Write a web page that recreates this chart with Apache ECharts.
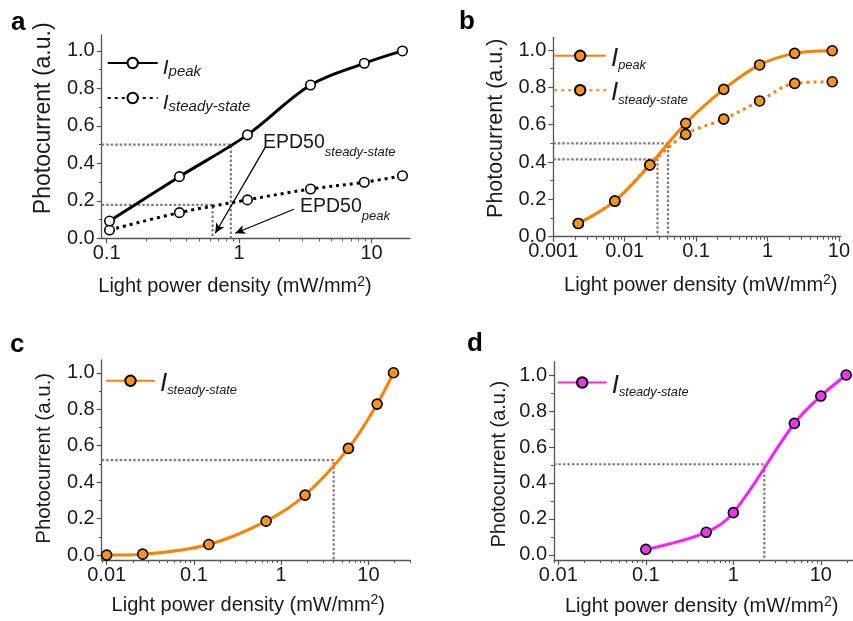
<!DOCTYPE html>
<html>
<head>
<meta charset="utf-8">
<script src="https://cdn.jsdelivr.net/npm/echarts@6/dist/echarts.min.js"></script>
<style>
html, body { margin: 0; padding: 0; background: #fff; }
#chart { width: 853px; height: 621px; }
</style>
</head>
<body>
<div id="chart"></div>
<script>
// panel a
const aX = [0.105, 0.354, 1.155, 3.46, 8.81, 17.1]
const aPeak = [0.092, 0.329, 0.552, 0.818, 0.934, 1.0]
const aSteady = [0.044, 0.137, 0.205, 0.263, 0.299, 0.334]
// panel b
const bX = [0.00224, 0.00728, 0.0225, 0.0716, 0.244, 0.776, 2.40, 8.07]
const bPeak = [0.071, 0.191, 0.384, 0.607, 0.789, 0.92, 0.982, 0.996]
const bSteady = [0.071, 0.191, 0.384, 0.548, 0.63, 0.727, 0.821, 0.83]
// panel c
const cX = [0.01, 0.0259, 0.148, 0.673, 1.88, 5.9, 12.6, 19.4]
const cSteady = [0.0, 0.005, 0.058, 0.186, 0.329, 0.585, 0.828, 1.0]
// panel d
const dX = [0.1, 0.49, 1.0, 4.98, 10, 19.5]
const dSteady = [0.031, 0.126, 0.235, 0.731, 0.883, 1.0]

// EPD50 guides: [x, y]
const aGuide = [[0.866, 0.5], [0.63, 0.178]]
const bGuide = [[0.0405, 0.5], [0.0288, 0.414]]
const cGuide = [[4.0, 0.521]]
const dGuide = [[2.26, 0.504]]

// ticks
const yTicks = [0, 0.2, 0.4, 0.6, 0.8, 1.0]
const yMinor = [0.1, 0.3, 0.5, 0.7, 0.9]
const aXTicks = [0.1, 1, 10]
const bXTicks = [0.001, 0.01, 0.1, 1, 10]
const cdXTicks = [0.01, 0.1, 1, 10]

const FONT = 'Liberation Sans, Arial, sans-serif'
const AXIS = '#555'
const TXT = '#1a1a1a'
const ORANGE = '#ff8000'
const ORANGE_DOT = '#f7931e'
const MAGENTA = '#ff1aff'
const MAGENTA_DOT = '#e838e8'
const X_TITLE = 'Light power density (mW/mm{sup|2})'
const Y_TITLE = 'Photocurrent (a.u.)'

const zip = (xs, ys) => xs.map((x, i) => [x, ys[i]])

const minorTicks = (min, max) => {
  const out = []
  for (let e = Math.floor(Math.log10(min)); e <= Math.ceil(Math.log10(max)); e++) {
    for (let k = 2; k <= 9; k++) {
      const v = k * Math.pow(10, e)
      if (v >= min && v <= max) out.push(v)
    }
  }
  return out
}

const panels = [
  {
    grid: { left: 101.7, right: 443, top: 35, bottom: 382.7 },
    xMin: 0.0917, xMax: 19.5, yMin: 0, yMax: 1.085, xTicks: aXTicks,
    xTitle: [235, 286.7], yTitle: [43.3, 118.3], yTitleSize: 23,
    guides: aGuide
  },
  {
    grid: { left: 553.3, right: 11.3, top: 37.3, bottom: 384.3 },
    xMin: 0.001, xMax: 10.5, yMin: 0, yMax: 1.068, xTicks: bXTicks,
    xTitle: [700.8, 285], yTitle: [495.7, 128.3], yTitleSize: 21.5,
    guides: bGuide
  },
  {
    grid: { left: 101.7, right: 443, top: 360, bottom: 61 },
    xMin: 0.00877, xMax: 30, yMin: -0.027, yMax: 1.07, xTicks: cdXTicks,
    xTitle: [248.3, 605], yTitle: [44.2, 458.3], yTitleSize: 20.5,
    guides: cGuide
  },
  {
    grid: { left: 554, right: 0, top: 361.7, bottom: 61 },
    xMin: 0.00893, xMax: 23.3, yMin: -0.028, yMax: 1.074, xTicks: cdXTicks,
    xTitle: [701.7, 606.7], yTitle: [499.2, 464.2], yTitleSize: 20,
    guides: dGuide
  }
]

const fmtX = v => String(+(+v).toPrecision(6))

const grids = []
const xAxes = []
const yAxes = []
panels.forEach((p, i) => {
  grids.push(Object.assign({ containLabel: false }, p.grid))
  xAxes.push({
    type: 'log', gridIndex: i, position: 'bottom', min: p.xMin, max: p.xMax,
    axisLine: { show: true, onZero: false, lineStyle: { color: AXIS, width: 1.3 } },
    axisTick: { show: true, length: 5, customValues: p.xTicks, lineStyle: { color: AXIS, width: 1.2 } },
    axisLabel: { customValues: p.xTicks, formatter: fmtX, fontSize: 20, color: TXT, margin: 5, fontFamily: FONT },
    splitLine: { show: false }
  })
  xAxes.push({
    type: 'log', gridIndex: i, position: 'bottom', min: p.xMin, max: p.xMax,
    axisLine: { show: false, onZero: false },
    axisTick: { show: true, length: 3, customValues: minorTicks(p.xMin, p.xMax), lineStyle: { color: AXIS, width: 1 } },
    axisLabel: { show: false },
    splitLine: { show: false }
  })
  yAxes.push({
    type: 'value', gridIndex: i, position: 'left', min: p.yMin, max: p.yMax,
    axisLine: { show: true, onZero: false, lineStyle: { color: AXIS, width: 1.3 } },
    axisTick: { show: true, length: 5, customValues: yTicks, lineStyle: { color: AXIS, width: 1.2 } },
    axisLabel: { customValues: yTicks, formatter: v => (+v).toFixed(1), fontSize: 20, color: TXT, margin: 7, fontFamily: FONT },
    splitLine: { show: false }
  })
  yAxes.push({
    type: 'value', gridIndex: i, position: 'left', min: p.yMin, max: p.yMax,
    axisLine: { show: false, onZero: false },
    axisTick: { show: true, length: 3, customValues: yMinor, lineStyle: { color: AXIS, width: 1 } },
    axisLabel: { show: false },
    splitLine: { show: false }
  })
})

const series = []

// guides first (behind)
panels.forEach((p, i) => {
  p.guides.forEach(g => {
    series.push({
      type: 'line', xAxisIndex: 2 * i, yAxisIndex: 2 * i, silent: true, symbol: 'none', z: 1,
      data: [[p.xMin, g[1]], [g[0], g[1]], [g[0], p.yMin]],
      lineStyle: { color: '#7d7d7d', width: 2.2, type: [2.5, 2] }
    })
  })
})

const mkLine = (name, i, xs, ys, color, fill, dotted, size, width) => ({
  type: 'line', name, xAxisIndex: 2 * i, yAxisIndex: 2 * i,
  data: zip(xs, ys), smooth: 0.35, symbol: 'circle', symbolSize: size, z: 3,
  lineStyle: { color, width, type: dotted ? [width, width + 1] : 'solid' },
  itemStyle: { color: fill, borderColor: '#000', borderWidth: 1.6 }
})

const aSteadySeries = mkLine('aSteady', 0, aX, aSteady, '#000', '#fff', true, 9.5, 3)
// arrows in panel a
aSteadySeries.markLine = {
  silent: true, symbol: ['none', 'arrow'], symbolSize: [7, 10],
  label: { show: false },
  lineStyle: { color: '#000', width: 1.3, type: 'solid' },
  data: [
    [{ coord: [1.585, 0.489] }, { coord: [0.66, 0.027] }],
    [{ coord: [2.59, 0.155] }, { coord: [0.933, 0.027] }]
  ]
}
series.push(aSteadySeries)
series.push(mkLine('aPeak', 0, aX, aPeak, '#000', '#fff', false, 9.5, 3))
series.push(mkLine('bSteady', 1, bX, bSteady, ORANGE, ORANGE_DOT, true, 10, 3))
series.push(mkLine('bPeak', 1, bX, bPeak, ORANGE, ORANGE_DOT, false, 10, 3))
series.push(mkLine('cSteady', 2, cX, cSteady, ORANGE, ORANGE_DOT, false, 10, 3))
series.push(mkLine('dSteady', 3, dX, dSteady, MAGENTA, MAGENTA_DOT, false, 10, 3))

const subNames = { aPeak: 'peak', aSteady: 'steady-state', bPeak: 'peak', bSteady: 'steady-state', cSteady: 'steady-state', dSteady: 'steady-state' }

const richBig = {
  i: { fontSize: 21, fontStyle: 'italic', fontFamily: FONT, color: TXT, lineHeight: 24, padding: [10, 0, 0, 0] },
  s: { fontSize: 15, fontStyle: 'italic', fontFamily: FONT, color: TXT, lineHeight: 17, padding: [17, 0, 0, 0] }
}
const richSmall = {
  i: { fontSize: 26, fontStyle: 'italic', fontFamily: FONT, color: TXT, lineHeight: 30, padding: [6, 0, 0, 0] },
  s: { fontSize: 12.8, fontStyle: 'italic', fontFamily: FONT, color: TXT, lineHeight: 16, padding: [20, 0, 0, 0] }
}

const mkLegend = (name, left, centerY, width, itemH, rich, blockH) => ({
  data: [name], left, top: centerY - blockH / 2, padding: 0,
  itemWidth: width, itemHeight: itemH, selectedMode: false,
  formatter: n => '{i|I}{s|' + subNames[n] + '}',
  textStyle: { rich }
})

const legends = [
  mkLegend('aPeak', 106.7, 64, 50, 13, richBig, 34),
  mkLegend('aSteady', 106.7, 99, 50, 13, richBig, 34),
  mkLegend('bPeak', 553.3, 57.3, 51.7, 13, richSmall, 36),
  mkLegend('bSteady', 553.3, 91.7, 51.7, 13, richSmall, 36),
  mkLegend('cSteady', 105, 382.3, 49, 13, richSmall, 36),
  mkLegend('dSteady', 556.7, 384, 49, 13, richSmall, 36)
]

const letter = (t, x, y) => ({
  type: 'text', left: x, top: y,
  style: { text: t, font: 'bold 26px ' + FONT, fill: '#000' }
})

const epd = (sub, x, y) => ({
  type: 'text', x, y,
  style: {
    text: '{m|EPD50}{s|' + sub + '}', verticalAlign: 'middle',
    rich: {
      m: { fontSize: 19.5, fontFamily: FONT, fill: TXT, lineHeight: 22, padding: [0, 0, 6, 0] },
      s: { fontSize: 13, fontStyle: 'italic', fontFamily: FONT, fill: TXT, lineHeight: 15, padding: [13, 0, 0, 0] }
    }
  }
})

const xTitle = p => ({
  type: 'text', x: p.xTitle[0], y: p.xTitle[1],
  style: {
    text: X_TITLE, align: 'center', verticalAlign: 'middle',
    fontSize: 20, fontFamily: FONT, fill: TXT,
    rich: { sup: { fontSize: 14, fontFamily: FONT, fill: TXT, padding: [0, 0, 9, 0] } }
  }
})

const yTitle = p => ({
  type: 'text', x: p.yTitle[0], y: p.yTitle[1], rotation: Math.PI / 2,
  style: {
    text: Y_TITLE, align: 'center', verticalAlign: 'middle',
    fontSize: p.yTitleSize, fontFamily: FONT, fill: TXT
  }
})

const chart = echarts.init(document.getElementById('chart'), null, { renderer: 'canvas' })
chart.setOption({
  animation: false,
  backgroundColor: '#fff',
  grid: grids,
  xAxis: xAxes,
  yAxis: yAxes,
  legend: legends,
  series,
  graphic: [
    letter('a', 11, 10),
    letter('b', 459, 9),
    letter('c', 10, 332),
    letter('d', 467, 331),
    epd('steady-state', 263, 146),
    epd('peak', 300, 210)
  ].concat(panels.map(xTitle), panels.map(yTitle))
})
window.addEventListener('resize', () => chart.resize())
</script>
</body>
</html>
